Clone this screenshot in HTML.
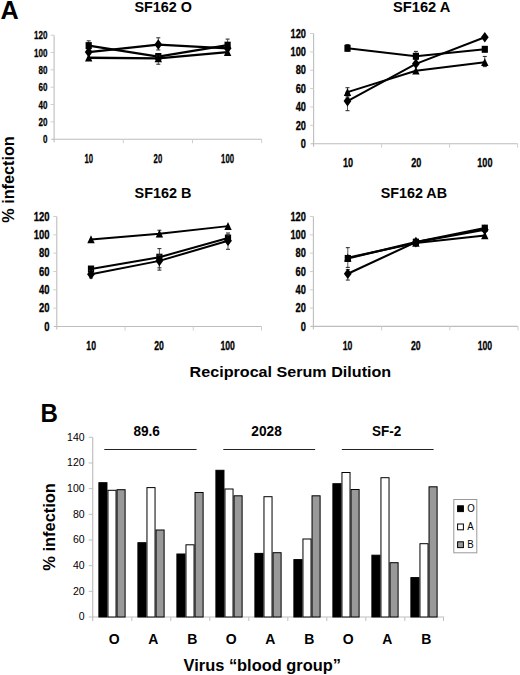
<!DOCTYPE html>
<html><head><meta charset="utf-8"><style>
html,body{margin:0;padding:0;background:#fff;}
svg{display:block;}
text{font-family:"Liberation Sans", sans-serif;fill:#000;}
text.c{stroke:#000;stroke-width:0.3px;}
</style></head><body>
<svg width="520" height="675" viewBox="0 0 520 675">
<rect width="520" height="675" fill="#fff"/>
<line x1="54.1" y1="35.2" x2="54.1" y2="142.2" stroke="#bdbdbd" stroke-width="1.1"/>
<line x1="51.1" y1="139.2" x2="261.7" y2="139.2" stroke="#bdbdbd" stroke-width="1.1"/>
<line x1="50.6" y1="121.87" x2="54.1" y2="121.87" stroke="#cfcfcf" stroke-width="1"/>
<line x1="50.6" y1="104.53" x2="54.1" y2="104.53" stroke="#cfcfcf" stroke-width="1"/>
<line x1="50.6" y1="87.20" x2="54.1" y2="87.20" stroke="#cfcfcf" stroke-width="1"/>
<line x1="50.6" y1="69.87" x2="54.1" y2="69.87" stroke="#cfcfcf" stroke-width="1"/>
<line x1="50.6" y1="52.53" x2="54.1" y2="52.53" stroke="#cfcfcf" stroke-width="1"/>
<line x1="50.6" y1="35.20" x2="54.1" y2="35.20" stroke="#cfcfcf" stroke-width="1"/>
<line x1="123.30" y1="139.2" x2="123.30" y2="143.2" stroke="#cfcfcf" stroke-width="1"/>
<line x1="192.50" y1="139.2" x2="192.50" y2="143.2" stroke="#cfcfcf" stroke-width="1"/>
<line x1="261.70" y1="139.2" x2="261.70" y2="143.2" stroke="#cfcfcf" stroke-width="1"/>
<text x="47.40" y="143.25" font-size="11.4" font-weight="bold" text-anchor="end" textLength="4.47" lengthAdjust="spacingAndGlyphs" class="c">0</text>
<text x="47.40" y="125.92" font-size="11.4" font-weight="bold" text-anchor="end" textLength="8.93" lengthAdjust="spacingAndGlyphs" class="c">20</text>
<text x="47.40" y="108.59" font-size="11.4" font-weight="bold" text-anchor="end" textLength="8.93" lengthAdjust="spacingAndGlyphs" class="c">40</text>
<text x="47.40" y="91.25" font-size="11.4" font-weight="bold" text-anchor="end" textLength="8.93" lengthAdjust="spacingAndGlyphs" class="c">60</text>
<text x="47.40" y="73.92" font-size="11.4" font-weight="bold" text-anchor="end" textLength="8.93" lengthAdjust="spacingAndGlyphs" class="c">80</text>
<text x="47.40" y="56.59" font-size="11.4" font-weight="bold" text-anchor="end" textLength="13.40" lengthAdjust="spacingAndGlyphs" class="c">100</text>
<text x="47.40" y="39.26" font-size="11.4" font-weight="bold" text-anchor="end" textLength="13.40" lengthAdjust="spacingAndGlyphs" class="c">120</text>
<text x="88.85" y="163.30" font-size="13.2" font-weight="bold" text-anchor="middle" textLength="8.60" lengthAdjust="spacingAndGlyphs" class="c">10</text>
<text x="157.90" y="163.30" font-size="13.2" font-weight="bold" text-anchor="middle" textLength="8.60" lengthAdjust="spacingAndGlyphs" class="c">20</text>
<text x="227.55" y="163.30" font-size="13.2" font-weight="bold" text-anchor="middle" textLength="12.90" lengthAdjust="spacingAndGlyphs" class="c">100</text>
<text x="134.40" y="11.50" font-size="14" font-weight="bold" text-anchor="start" textLength="57.50" lengthAdjust="spacingAndGlyphs" >SF162 O</text>
<line x1="88.70" y1="40.83" x2="88.70" y2="49.07" stroke="#444" stroke-width="0.9"/>
<line x1="86.70" y1="49.07" x2="90.70" y2="49.07" stroke="#333" stroke-width="1.1"/>
<line x1="86.70" y1="40.83" x2="90.70" y2="40.83" stroke="#333" stroke-width="1.1"/>
<line x1="227.60" y1="39.10" x2="227.60" y2="49.07" stroke="#444" stroke-width="0.9"/>
<line x1="225.60" y1="49.07" x2="229.60" y2="49.07" stroke="#333" stroke-width="1.1"/>
<line x1="225.60" y1="39.10" x2="229.60" y2="39.10" stroke="#333" stroke-width="1.1"/>
<path d="M88.70,45.60 L158.30,56.52 L227.60,45.17" fill="none" stroke="#000" stroke-width="2.3" stroke-linejoin="round"/>
<rect x="85.60" y="42.10" width="6.2" height="7" fill="#000"/>
<rect x="155.20" y="53.02" width="6.2" height="7" fill="#000"/>
<rect x="224.50" y="41.67" width="6.2" height="7" fill="#000"/>
<line x1="158.30" y1="37.80" x2="158.30" y2="49.93" stroke="#444" stroke-width="0.9"/>
<line x1="156.30" y1="49.93" x2="160.30" y2="49.93" stroke="#333" stroke-width="1.1"/>
<line x1="156.30" y1="37.80" x2="160.30" y2="37.80" stroke="#333" stroke-width="1.1"/>
<path d="M88.70,52.10 L158.30,44.56 L227.60,48.37" fill="none" stroke="#000" stroke-width="2.3" stroke-linejoin="round"/>
<path d="M88.70,46.80 L92.60,52.10 L88.70,57.40 L84.80,52.10Z" fill="#000"/>
<path d="M158.30,39.26 L162.20,44.56 L158.30,49.86 L154.40,44.56Z" fill="#000"/>
<path d="M227.60,43.07 L231.50,48.37 L227.60,53.67 L223.70,48.37Z" fill="#000"/>
<line x1="158.30" y1="56.00" x2="158.30" y2="64.23" stroke="#444" stroke-width="0.9"/>
<line x1="156.30" y1="64.23" x2="160.30" y2="64.23" stroke="#333" stroke-width="1.1"/>
<line x1="156.30" y1="56.00" x2="160.30" y2="56.00" stroke="#333" stroke-width="1.1"/>
<path d="M88.70,57.73 L158.30,58.34 L227.60,52.10" fill="none" stroke="#000" stroke-width="2.3" stroke-linejoin="round"/>
<path d="M88.70,53.63 L92.40,61.53 L85.00,61.53Z" fill="#000"/>
<path d="M158.30,54.24 L162.00,62.14 L154.60,62.14Z" fill="#000"/>
<path d="M227.60,48.00 L231.30,55.90 L223.90,55.90Z" fill="#000"/>
<line x1="313.6" y1="33.5" x2="313.6" y2="146.7" stroke="#bdbdbd" stroke-width="1.1"/>
<line x1="310.6" y1="143.7" x2="517.6" y2="143.7" stroke="#bdbdbd" stroke-width="1.1"/>
<line x1="310.1" y1="125.33" x2="313.6" y2="125.33" stroke="#cfcfcf" stroke-width="1"/>
<line x1="310.1" y1="106.97" x2="313.6" y2="106.97" stroke="#cfcfcf" stroke-width="1"/>
<line x1="310.1" y1="88.60" x2="313.6" y2="88.60" stroke="#cfcfcf" stroke-width="1"/>
<line x1="310.1" y1="70.23" x2="313.6" y2="70.23" stroke="#cfcfcf" stroke-width="1"/>
<line x1="310.1" y1="51.87" x2="313.6" y2="51.87" stroke="#cfcfcf" stroke-width="1"/>
<line x1="310.1" y1="33.50" x2="313.6" y2="33.50" stroke="#cfcfcf" stroke-width="1"/>
<line x1="381.60" y1="143.7" x2="381.60" y2="147.7" stroke="#cfcfcf" stroke-width="1"/>
<line x1="449.60" y1="143.7" x2="449.60" y2="147.7" stroke="#cfcfcf" stroke-width="1"/>
<line x1="517.60" y1="143.7" x2="517.60" y2="147.7" stroke="#cfcfcf" stroke-width="1"/>
<text x="305.90" y="147.93" font-size="11.9" font-weight="bold" text-anchor="end" textLength="5.13" lengthAdjust="spacingAndGlyphs" class="c">0</text>
<text x="305.90" y="129.57" font-size="11.9" font-weight="bold" text-anchor="end" textLength="10.27" lengthAdjust="spacingAndGlyphs" class="c">20</text>
<text x="305.90" y="111.20" font-size="11.9" font-weight="bold" text-anchor="end" textLength="10.27" lengthAdjust="spacingAndGlyphs" class="c">40</text>
<text x="305.90" y="92.83" font-size="11.9" font-weight="bold" text-anchor="end" textLength="10.27" lengthAdjust="spacingAndGlyphs" class="c">60</text>
<text x="305.90" y="74.47" font-size="11.9" font-weight="bold" text-anchor="end" textLength="10.27" lengthAdjust="spacingAndGlyphs" class="c">80</text>
<text x="305.90" y="56.10" font-size="11.9" font-weight="bold" text-anchor="end" textLength="15.40" lengthAdjust="spacingAndGlyphs" class="c">100</text>
<text x="305.90" y="37.73" font-size="11.9" font-weight="bold" text-anchor="end" textLength="15.40" lengthAdjust="spacingAndGlyphs" class="c">120</text>
<text x="348.00" y="166.60" font-size="12.5" font-weight="bold" text-anchor="middle" textLength="10.13" lengthAdjust="spacingAndGlyphs" class="c">10</text>
<text x="416.20" y="166.60" font-size="12.5" font-weight="bold" text-anchor="middle" textLength="10.13" lengthAdjust="spacingAndGlyphs" class="c">20</text>
<text x="484.90" y="166.60" font-size="12.5" font-weight="bold" text-anchor="middle" textLength="15.20" lengthAdjust="spacingAndGlyphs" class="c">100</text>
<text x="393.00" y="11.80" font-size="14" font-weight="bold" text-anchor="start" textLength="57.40" lengthAdjust="spacingAndGlyphs" >SF162 A</text>
<line x1="347.50" y1="44.52" x2="347.50" y2="50.95" stroke="#444" stroke-width="0.9"/>
<line x1="345.50" y1="50.95" x2="349.50" y2="50.95" stroke="#333" stroke-width="1.1"/>
<line x1="345.50" y1="44.52" x2="349.50" y2="44.52" stroke="#333" stroke-width="1.1"/>
<line x1="415.90" y1="51.41" x2="415.90" y2="59.21" stroke="#444" stroke-width="0.9"/>
<line x1="413.90" y1="59.21" x2="417.90" y2="59.21" stroke="#333" stroke-width="1.1"/>
<line x1="413.90" y1="51.41" x2="417.90" y2="51.41" stroke="#333" stroke-width="1.1"/>
<path d="M347.50,48.29 L415.90,56.27 L484.80,49.30" fill="none" stroke="#000" stroke-width="1.95" stroke-linejoin="round"/>
<rect x="344.40" y="44.79" width="6.2" height="7" fill="#000"/>
<rect x="412.80" y="52.77" width="6.2" height="7" fill="#000"/>
<rect x="481.70" y="45.80" width="6.2" height="7" fill="#000"/>
<line x1="347.50" y1="92.27" x2="347.50" y2="110.64" stroke="#444" stroke-width="0.9"/>
<line x1="345.50" y1="110.64" x2="349.50" y2="110.64" stroke="#333" stroke-width="1.1"/>
<line x1="345.50" y1="92.27" x2="349.50" y2="92.27" stroke="#333" stroke-width="1.1"/>
<path d="M347.50,101.09 L415.90,63.80 L484.80,37.27" fill="none" stroke="#000" stroke-width="1.95" stroke-linejoin="round"/>
<path d="M347.50,95.79 L351.40,101.09 L347.50,106.39 L343.60,101.09Z" fill="#000"/>
<path d="M415.90,58.50 L419.80,63.80 L415.90,69.10 L412.00,63.80Z" fill="#000"/>
<path d="M484.80,31.97 L488.70,37.27 L484.80,42.57 L480.90,37.27Z" fill="#000"/>
<line x1="347.50" y1="87.68" x2="347.50" y2="96.86" stroke="#444" stroke-width="0.9"/>
<line x1="345.50" y1="96.86" x2="349.50" y2="96.86" stroke="#333" stroke-width="1.1"/>
<line x1="345.50" y1="87.68" x2="349.50" y2="87.68" stroke="#333" stroke-width="1.1"/>
<line x1="484.80" y1="56.46" x2="484.80" y2="66.56" stroke="#444" stroke-width="0.9"/>
<line x1="482.80" y1="66.56" x2="486.80" y2="66.56" stroke="#333" stroke-width="1.1"/>
<line x1="482.80" y1="56.46" x2="486.80" y2="56.46" stroke="#333" stroke-width="1.1"/>
<path d="M347.50,92.18 L415.90,70.78 L484.80,62.24" fill="none" stroke="#000" stroke-width="1.95" stroke-linejoin="round"/>
<path d="M347.50,88.08 L351.20,95.98 L343.80,95.98Z" fill="#000"/>
<path d="M415.90,66.68 L419.60,74.58 L412.20,74.58Z" fill="#000"/>
<path d="M484.80,58.14 L488.50,66.04 L481.10,66.04Z" fill="#000"/>
<line x1="56.8" y1="216.5" x2="56.8" y2="329.5" stroke="#bdbdbd" stroke-width="1.1"/>
<line x1="53.8" y1="326.5" x2="261.5" y2="326.5" stroke="#bdbdbd" stroke-width="1.1"/>
<line x1="53.3" y1="308.17" x2="56.8" y2="308.17" stroke="#cfcfcf" stroke-width="1"/>
<line x1="53.3" y1="289.83" x2="56.8" y2="289.83" stroke="#cfcfcf" stroke-width="1"/>
<line x1="53.3" y1="271.50" x2="56.8" y2="271.50" stroke="#cfcfcf" stroke-width="1"/>
<line x1="53.3" y1="253.17" x2="56.8" y2="253.17" stroke="#cfcfcf" stroke-width="1"/>
<line x1="53.3" y1="234.83" x2="56.8" y2="234.83" stroke="#cfcfcf" stroke-width="1"/>
<line x1="53.3" y1="216.50" x2="56.8" y2="216.50" stroke="#cfcfcf" stroke-width="1"/>
<line x1="125.03" y1="326.5" x2="125.03" y2="330.5" stroke="#cfcfcf" stroke-width="1"/>
<line x1="193.27" y1="326.5" x2="193.27" y2="330.5" stroke="#cfcfcf" stroke-width="1"/>
<line x1="261.50" y1="326.5" x2="261.50" y2="330.5" stroke="#cfcfcf" stroke-width="1"/>
<text x="49.60" y="330.73" font-size="11.9" font-weight="bold" text-anchor="end" textLength="5.27" lengthAdjust="spacingAndGlyphs" class="c">0</text>
<text x="49.60" y="312.40" font-size="11.9" font-weight="bold" text-anchor="end" textLength="10.53" lengthAdjust="spacingAndGlyphs" class="c">20</text>
<text x="49.60" y="294.07" font-size="11.9" font-weight="bold" text-anchor="end" textLength="10.53" lengthAdjust="spacingAndGlyphs" class="c">40</text>
<text x="49.60" y="275.73" font-size="11.9" font-weight="bold" text-anchor="end" textLength="10.53" lengthAdjust="spacingAndGlyphs" class="c">60</text>
<text x="49.60" y="257.40" font-size="11.9" font-weight="bold" text-anchor="end" textLength="10.53" lengthAdjust="spacingAndGlyphs" class="c">80</text>
<text x="49.60" y="239.07" font-size="11.9" font-weight="bold" text-anchor="end" textLength="15.80" lengthAdjust="spacingAndGlyphs" class="c">100</text>
<text x="49.60" y="220.73" font-size="11.9" font-weight="bold" text-anchor="end" textLength="15.80" lengthAdjust="spacingAndGlyphs" class="c">120</text>
<text x="91.20" y="349.80" font-size="12.5" font-weight="bold" text-anchor="middle" textLength="9.67" lengthAdjust="spacingAndGlyphs" class="c">10</text>
<text x="159.10" y="349.80" font-size="12.5" font-weight="bold" text-anchor="middle" textLength="9.67" lengthAdjust="spacingAndGlyphs" class="c">20</text>
<text x="227.70" y="349.80" font-size="12.5" font-weight="bold" text-anchor="middle" textLength="14.50" lengthAdjust="spacingAndGlyphs" class="c">100</text>
<text x="134.60" y="197.50" font-size="14" font-weight="bold" text-anchor="start" textLength="56.90" lengthAdjust="spacingAndGlyphs" >SF162 B</text>
<line x1="159.40" y1="230.25" x2="159.40" y2="236.67" stroke="#444" stroke-width="0.9"/>
<line x1="157.40" y1="236.67" x2="161.40" y2="236.67" stroke="#333" stroke-width="1.1"/>
<line x1="157.40" y1="230.25" x2="161.40" y2="230.25" stroke="#333" stroke-width="1.1"/>
<path d="M91.00,239.42 L159.40,233.73 L228.00,226.12" fill="none" stroke="#000" stroke-width="2.0" stroke-linejoin="round"/>
<path d="M91.00,235.32 L94.70,243.22 L87.30,243.22Z" fill="#000"/>
<path d="M159.40,229.63 L163.10,237.53 L155.70,237.53Z" fill="#000"/>
<path d="M228.00,222.03 L231.70,229.93 L224.30,229.93Z" fill="#000"/>
<line x1="159.40" y1="248.58" x2="159.40" y2="267.83" stroke="#444" stroke-width="0.9"/>
<line x1="157.40" y1="267.83" x2="161.40" y2="267.83" stroke="#333" stroke-width="1.1"/>
<line x1="157.40" y1="248.58" x2="161.40" y2="248.58" stroke="#333" stroke-width="1.1"/>
<line x1="228.00" y1="233.00" x2="228.00" y2="241.25" stroke="#444" stroke-width="0.9"/>
<line x1="226.00" y1="241.25" x2="230.00" y2="241.25" stroke="#333" stroke-width="1.1"/>
<line x1="226.00" y1="233.00" x2="230.00" y2="233.00" stroke="#333" stroke-width="1.1"/>
<path d="M91.00,269.02 L159.40,257.20 L228.00,238.04" fill="none" stroke="#000" stroke-width="2.0" stroke-linejoin="round"/>
<rect x="87.90" y="265.52" width="6.2" height="7" fill="#000"/>
<rect x="156.30" y="253.70" width="6.2" height="7" fill="#000"/>
<rect x="224.90" y="234.54" width="6.2" height="7" fill="#000"/>
<line x1="91.00" y1="270.58" x2="91.00" y2="277.92" stroke="#444" stroke-width="0.9"/>
<line x1="89.00" y1="277.92" x2="93.00" y2="277.92" stroke="#333" stroke-width="1.1"/>
<line x1="89.00" y1="270.58" x2="93.00" y2="270.58" stroke="#333" stroke-width="1.1"/>
<line x1="159.40" y1="255.00" x2="159.40" y2="270.12" stroke="#444" stroke-width="0.9"/>
<line x1="157.40" y1="270.12" x2="161.40" y2="270.12" stroke="#333" stroke-width="1.1"/>
<line x1="157.40" y1="255.00" x2="161.40" y2="255.00" stroke="#333" stroke-width="1.1"/>
<line x1="228.00" y1="234.83" x2="228.00" y2="249.32" stroke="#444" stroke-width="0.9"/>
<line x1="226.00" y1="249.32" x2="230.00" y2="249.32" stroke="#333" stroke-width="1.1"/>
<line x1="226.00" y1="234.83" x2="230.00" y2="234.83" stroke="#333" stroke-width="1.1"/>
<path d="M91.00,274.25 L159.40,260.87 L228.00,240.79" fill="none" stroke="#000" stroke-width="2.0" stroke-linejoin="round"/>
<path d="M91.00,268.95 L94.90,274.25 L91.00,279.55 L87.10,274.25Z" fill="#000"/>
<path d="M159.40,255.57 L163.30,260.87 L159.40,266.17 L155.50,260.87Z" fill="#000"/>
<path d="M228.00,235.49 L231.90,240.79 L228.00,246.09 L224.10,240.79Z" fill="#000"/>
<line x1="313.4" y1="216.5" x2="313.4" y2="329.4" stroke="#bdbdbd" stroke-width="1.1"/>
<line x1="310.4" y1="326.4" x2="518" y2="326.4" stroke="#bdbdbd" stroke-width="1.1"/>
<line x1="309.9" y1="308.08" x2="313.4" y2="308.08" stroke="#cfcfcf" stroke-width="1"/>
<line x1="309.9" y1="289.77" x2="313.4" y2="289.77" stroke="#cfcfcf" stroke-width="1"/>
<line x1="309.9" y1="271.45" x2="313.4" y2="271.45" stroke="#cfcfcf" stroke-width="1"/>
<line x1="309.9" y1="253.13" x2="313.4" y2="253.13" stroke="#cfcfcf" stroke-width="1"/>
<line x1="309.9" y1="234.82" x2="313.4" y2="234.82" stroke="#cfcfcf" stroke-width="1"/>
<line x1="309.9" y1="216.50" x2="313.4" y2="216.50" stroke="#cfcfcf" stroke-width="1"/>
<line x1="381.60" y1="326.4" x2="381.60" y2="330.4" stroke="#cfcfcf" stroke-width="1"/>
<line x1="449.80" y1="326.4" x2="449.80" y2="330.4" stroke="#cfcfcf" stroke-width="1"/>
<line x1="518.00" y1="326.4" x2="518.00" y2="330.4" stroke="#cfcfcf" stroke-width="1"/>
<text x="305.90" y="330.63" font-size="11.9" font-weight="bold" text-anchor="end" textLength="5.17" lengthAdjust="spacingAndGlyphs" class="c">0</text>
<text x="305.90" y="312.32" font-size="11.9" font-weight="bold" text-anchor="end" textLength="10.33" lengthAdjust="spacingAndGlyphs" class="c">20</text>
<text x="305.90" y="294.00" font-size="11.9" font-weight="bold" text-anchor="end" textLength="10.33" lengthAdjust="spacingAndGlyphs" class="c">40</text>
<text x="305.90" y="275.68" font-size="11.9" font-weight="bold" text-anchor="end" textLength="10.33" lengthAdjust="spacingAndGlyphs" class="c">60</text>
<text x="305.90" y="257.37" font-size="11.9" font-weight="bold" text-anchor="end" textLength="10.33" lengthAdjust="spacingAndGlyphs" class="c">80</text>
<text x="305.90" y="239.05" font-size="11.9" font-weight="bold" text-anchor="end" textLength="15.50" lengthAdjust="spacingAndGlyphs" class="c">100</text>
<text x="305.90" y="220.73" font-size="11.9" font-weight="bold" text-anchor="end" textLength="15.50" lengthAdjust="spacingAndGlyphs" class="c">120</text>
<text x="347.60" y="349.80" font-size="12.5" font-weight="bold" text-anchor="middle" textLength="9.67" lengthAdjust="spacingAndGlyphs" class="c">10</text>
<text x="415.80" y="349.80" font-size="12.5" font-weight="bold" text-anchor="middle" textLength="9.67" lengthAdjust="spacingAndGlyphs" class="c">20</text>
<text x="484.90" y="349.80" font-size="12.5" font-weight="bold" text-anchor="middle" textLength="14.50" lengthAdjust="spacingAndGlyphs" class="c">100</text>
<text x="380.70" y="198.00" font-size="14" font-weight="bold" text-anchor="start" textLength="66.30" lengthAdjust="spacingAndGlyphs" >SF162 AB</text>
<line x1="347.80" y1="247.64" x2="347.80" y2="267.42" stroke="#444" stroke-width="0.9"/>
<line x1="345.80" y1="267.42" x2="349.80" y2="267.42" stroke="#333" stroke-width="1.1"/>
<line x1="345.80" y1="247.64" x2="349.80" y2="247.64" stroke="#333" stroke-width="1.1"/>
<path d="M347.80,258.45 L415.90,242.14 L484.80,228.13" fill="none" stroke="#000" stroke-width="2.1" stroke-linejoin="round"/>
<rect x="344.70" y="254.95" width="6.2" height="7" fill="#000"/>
<rect x="412.80" y="238.64" width="6.2" height="7" fill="#000"/>
<rect x="481.70" y="224.63" width="6.2" height="7" fill="#000"/>
<path d="M347.80,257.71 L415.90,243.06 L484.80,235.55" fill="none" stroke="#000" stroke-width="2.1" stroke-linejoin="round"/>
<path d="M347.80,253.61 L351.50,261.51 L344.10,261.51Z" fill="#000"/>
<path d="M415.90,238.96 L419.60,246.86 L412.20,246.86Z" fill="#000"/>
<path d="M484.80,231.45 L488.50,239.35 L481.10,239.35Z" fill="#000"/>
<line x1="347.80" y1="269.62" x2="347.80" y2="280.06" stroke="#444" stroke-width="0.9"/>
<line x1="345.80" y1="280.06" x2="349.80" y2="280.06" stroke="#333" stroke-width="1.1"/>
<line x1="345.80" y1="269.62" x2="349.80" y2="269.62" stroke="#333" stroke-width="1.1"/>
<path d="M347.80,273.74 L415.90,242.14 L484.80,229.69" fill="none" stroke="#000" stroke-width="2.1" stroke-linejoin="round"/>
<path d="M347.80,268.44 L351.70,273.74 L347.80,279.04 L343.90,273.74Z" fill="#000"/>
<path d="M415.90,236.84 L419.80,242.14 L415.90,247.44 L412.00,242.14Z" fill="#000"/>
<path d="M484.80,224.39 L488.70,229.69 L484.80,234.99 L480.90,229.69Z" fill="#000"/>
<text x="0.60" y="18.70" font-size="25.5" font-weight="bold" text-anchor="start" textLength="18.20" lengthAdjust="spacingAndGlyphs" >A</text>
<text x="40.40" y="421.80" font-size="25.5" font-weight="bold" text-anchor="start" textLength="17.40" lengthAdjust="spacingAndGlyphs" >B</text>
<text transform="translate(13.9,179.5) rotate(-90)" font-size="16.3" font-weight="bold" text-anchor="middle" textLength="86.5" lengthAdjust="spacingAndGlyphs">% infection</text>
<text transform="translate(54.6,526.9) rotate(-90)" font-size="16.5" font-weight="bold" text-anchor="middle" textLength="87.5" lengthAdjust="spacingAndGlyphs">% infection</text>
<text x="189.60" y="377.20" font-size="15.2" font-weight="bold" text-anchor="start" textLength="201.60" lengthAdjust="spacingAndGlyphs" >Reciprocal Serum Dilution</text>
<text x="183.60" y="670.50" font-size="16" font-weight="bold" text-anchor="start" textLength="157.40" lengthAdjust="spacingAndGlyphs" >Virus “blood group”</text>
<line x1="92.7" y1="437.3" x2="92.7" y2="621.0" stroke="#c0c0c0" stroke-width="1.2"/>
<line x1="88.7" y1="617.0" x2="444.1" y2="617.0" stroke="#c0c0c0" stroke-width="1.2"/>
<line x1="88.7" y1="591.33" x2="92.7" y2="591.33" stroke="#c0c0c0" stroke-width="1"/>
<line x1="88.7" y1="565.66" x2="92.7" y2="565.66" stroke="#c0c0c0" stroke-width="1"/>
<line x1="88.7" y1="539.99" x2="92.7" y2="539.99" stroke="#c0c0c0" stroke-width="1"/>
<line x1="88.7" y1="514.31" x2="92.7" y2="514.31" stroke="#c0c0c0" stroke-width="1"/>
<line x1="88.7" y1="488.64" x2="92.7" y2="488.64" stroke="#c0c0c0" stroke-width="1"/>
<line x1="88.7" y1="462.97" x2="92.7" y2="462.97" stroke="#c0c0c0" stroke-width="1"/>
<line x1="88.7" y1="437.30" x2="92.7" y2="437.30" stroke="#c0c0c0" stroke-width="1"/>
<line x1="131.80" y1="617.0" x2="131.80" y2="621.0" stroke="#c0c0c0" stroke-width="1"/>
<line x1="170.80" y1="617.0" x2="170.80" y2="621.0" stroke="#c0c0c0" stroke-width="1"/>
<line x1="209.80" y1="617.0" x2="209.80" y2="621.0" stroke="#c0c0c0" stroke-width="1"/>
<line x1="248.80" y1="617.0" x2="248.80" y2="621.0" stroke="#c0c0c0" stroke-width="1"/>
<line x1="287.80" y1="617.0" x2="287.80" y2="621.0" stroke="#c0c0c0" stroke-width="1"/>
<line x1="326.80" y1="617.0" x2="326.80" y2="621.0" stroke="#c0c0c0" stroke-width="1"/>
<line x1="365.80" y1="617.0" x2="365.80" y2="621.0" stroke="#c0c0c0" stroke-width="1"/>
<line x1="404.80" y1="617.0" x2="404.80" y2="621.0" stroke="#c0c0c0" stroke-width="1"/>
<line x1="443.50" y1="617.0" x2="443.50" y2="621.0" stroke="#c0c0c0" stroke-width="1"/>
<text x="84.60" y="620.40" font-size="10.5" font-weight="normal" text-anchor="end" >0</text>
<text x="84.60" y="594.73" font-size="10.5" font-weight="normal" text-anchor="end" >20</text>
<text x="84.60" y="569.06" font-size="10.5" font-weight="normal" text-anchor="end" >40</text>
<text x="84.60" y="543.39" font-size="10.5" font-weight="normal" text-anchor="end" >60</text>
<text x="84.60" y="517.71" font-size="10.5" font-weight="normal" text-anchor="end" >80</text>
<text x="84.60" y="492.04" font-size="10.5" font-weight="normal" text-anchor="end" >100</text>
<text x="84.60" y="466.37" font-size="10.5" font-weight="normal" text-anchor="end" >120</text>
<text x="84.60" y="440.70" font-size="10.5" font-weight="normal" text-anchor="end" >140</text>
<rect x="98.89" y="482.70" width="8.07" height="134.30" fill="#000" stroke="#000" stroke-width="1"/>
<rect x="107.97" y="490.30" width="8.07" height="126.70" fill="#fff" stroke="#000" stroke-width="1"/>
<rect x="117.03" y="489.70" width="8.07" height="127.30" fill="#999" stroke="#000" stroke-width="1"/>
<rect x="137.90" y="542.70" width="8.07" height="74.30" fill="#000" stroke="#000" stroke-width="1"/>
<rect x="146.97" y="487.60" width="8.07" height="129.40" fill="#fff" stroke="#000" stroke-width="1"/>
<rect x="156.04" y="530.00" width="8.07" height="87.00" fill="#999" stroke="#000" stroke-width="1"/>
<rect x="176.90" y="554.00" width="8.07" height="63.00" fill="#000" stroke="#000" stroke-width="1"/>
<rect x="185.97" y="544.80" width="8.07" height="72.20" fill="#fff" stroke="#000" stroke-width="1"/>
<rect x="195.04" y="492.50" width="8.07" height="124.50" fill="#999" stroke="#000" stroke-width="1"/>
<rect x="215.90" y="470.30" width="8.07" height="146.70" fill="#000" stroke="#000" stroke-width="1"/>
<rect x="224.97" y="489.00" width="8.07" height="128.00" fill="#fff" stroke="#000" stroke-width="1"/>
<rect x="234.04" y="495.80" width="8.07" height="121.20" fill="#999" stroke="#000" stroke-width="1"/>
<rect x="254.90" y="553.40" width="8.07" height="63.60" fill="#000" stroke="#000" stroke-width="1"/>
<rect x="263.97" y="496.70" width="8.07" height="120.30" fill="#fff" stroke="#000" stroke-width="1"/>
<rect x="273.04" y="552.70" width="8.07" height="64.30" fill="#999" stroke="#000" stroke-width="1"/>
<rect x="293.89" y="559.60" width="8.07" height="57.40" fill="#000" stroke="#000" stroke-width="1"/>
<rect x="302.96" y="539.00" width="8.07" height="78.00" fill="#fff" stroke="#000" stroke-width="1"/>
<rect x="312.03" y="495.80" width="8.07" height="121.20" fill="#999" stroke="#000" stroke-width="1"/>
<rect x="332.89" y="483.70" width="8.07" height="133.30" fill="#000" stroke="#000" stroke-width="1"/>
<rect x="341.96" y="472.50" width="8.07" height="144.50" fill="#fff" stroke="#000" stroke-width="1"/>
<rect x="351.03" y="489.50" width="8.07" height="127.50" fill="#999" stroke="#000" stroke-width="1"/>
<rect x="371.89" y="555.20" width="8.07" height="61.80" fill="#000" stroke="#000" stroke-width="1"/>
<rect x="380.96" y="477.70" width="8.07" height="139.30" fill="#fff" stroke="#000" stroke-width="1"/>
<rect x="390.03" y="562.70" width="8.07" height="54.30" fill="#999" stroke="#000" stroke-width="1"/>
<rect x="410.89" y="577.60" width="8.07" height="39.40" fill="#000" stroke="#000" stroke-width="1"/>
<rect x="419.96" y="543.70" width="8.07" height="73.30" fill="#fff" stroke="#000" stroke-width="1"/>
<rect x="429.03" y="486.80" width="8.07" height="130.20" fill="#999" stroke="#000" stroke-width="1"/>
<text x="114.25" y="643.60" font-size="14" font-weight="bold" text-anchor="middle" >O</text>
<text x="153.25" y="643.60" font-size="14" font-weight="bold" text-anchor="middle" >A</text>
<text x="192.25" y="643.60" font-size="14" font-weight="bold" text-anchor="middle" >B</text>
<text x="231.25" y="643.60" font-size="14" font-weight="bold" text-anchor="middle" >O</text>
<text x="270.25" y="643.60" font-size="14" font-weight="bold" text-anchor="middle" >A</text>
<text x="309.25" y="643.60" font-size="14" font-weight="bold" text-anchor="middle" >B</text>
<text x="348.25" y="643.60" font-size="14" font-weight="bold" text-anchor="middle" >O</text>
<text x="387.25" y="643.60" font-size="14" font-weight="bold" text-anchor="middle" >A</text>
<text x="426.25" y="643.60" font-size="14" font-weight="bold" text-anchor="middle" >B</text>
<text x="133.40" y="435.60" font-size="14" font-weight="bold" text-anchor="start" textLength="26.50" lengthAdjust="spacingAndGlyphs" >89.6</text>
<line x1="104.3" y1="449.5" x2="196.6" y2="449.5" stroke="#222" stroke-width="1.05"/>
<text x="251.30" y="435.60" font-size="14" font-weight="bold" text-anchor="start" textLength="30.50" lengthAdjust="spacingAndGlyphs" >2028</text>
<line x1="223.3" y1="449.5" x2="315.1" y2="449.5" stroke="#222" stroke-width="1.05"/>
<text x="372.10" y="435.60" font-size="14" font-weight="bold" text-anchor="start" textLength="29.20" lengthAdjust="spacingAndGlyphs" >SF-2</text>
<line x1="341.8" y1="449.5" x2="433.6" y2="449.5" stroke="#222" stroke-width="1.05"/>
<rect x="453.8" y="499.5" width="23" height="53.3" fill="#fff" stroke="#999" stroke-width="1"/>
<rect x="457.6" y="505.80" width="5.8" height="5.8" fill="#000" stroke="#000" stroke-width="1"/>
<text x="467.20" y="511.90" font-size="11" font-weight="normal" text-anchor="start" textLength="7.50" lengthAdjust="spacingAndGlyphs" >O</text>
<rect x="457.6" y="524.00" width="5.8" height="5.8" fill="#fff" stroke="#000" stroke-width="1"/>
<text x="467.20" y="530.10" font-size="11" font-weight="normal" text-anchor="start" textLength="6.45" lengthAdjust="spacingAndGlyphs" >A</text>
<rect x="457.6" y="541.80" width="5.8" height="5.8" fill="#999" stroke="#000" stroke-width="1"/>
<text x="467.20" y="547.90" font-size="11" font-weight="normal" text-anchor="start" textLength="6.45" lengthAdjust="spacingAndGlyphs" >B</text>
</svg>
</body></html>
